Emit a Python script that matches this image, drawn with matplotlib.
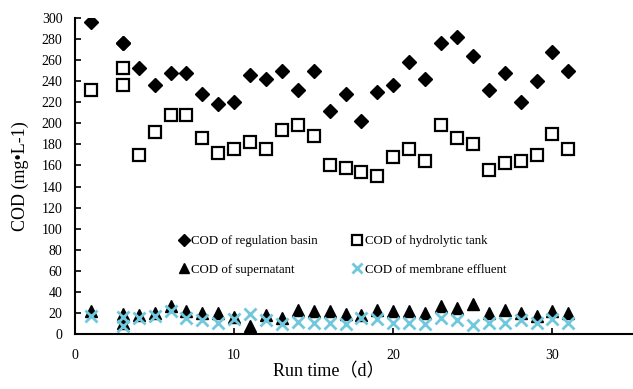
import matplotlib
matplotlib.use("Agg")
import matplotlib.pyplot as plt

plt.rcParams['font.family'] = ['Liberation Serif', 'Noto Sans CJK SC']

# run days (day 3 has two samples)
days = [1, 3, 3, 4, 5, 6, 7, 8, 9, 10, 11, 12, 13, 14, 15, 16, 17, 18, 19, 20,
        21, 22, 23, 24, 25, 26, 27, 28, 29, 30, 31]

cod_basin = [296, 276, 276, 252, 236, 248, 248, 228, 218, 220, 246, 242, 250, 232, 250, 212,
             228, 202, 230, 236, 258, 242, 276, 282, 264, 232, 248, 220, 240, 268, 250]
cod_hydro = [232, 252, 236, 170, 192, 208, 208, 186, 172, 176, 182, 176, 194, 198, 188, 160,
             158, 154, 150, 168, 176, 164, 198, 186, 180, 156, 162, 164, 170, 190, 176]
cod_super = [22, 19, 11, 18, 20, 27, 22, 20, 20, 16, 8, 18, 15, 23, 22, 22,
             19, 18, 23, 22, 22, 20, 27, 25, 29, 20, 23, 20, 17, 22, 20]
cod_membr = [17, 16, 8, 15, 17, 22, 15, 13, 11, 14, 19, 13, 10, 12, 11, 11,
             10, 15, 14, 11, 11, 10, 15, 13, 9, 11, 11, 13, 11, 14, 11]

fig = plt.figure(figsize=(6.33, 3.89), dpi=100)
ax = fig.add_axes([0.1185, 0.141, 0.88, 0.813])

h1, = ax.plot(days, cod_basin, 'D', color='black', ms=7.5, ls='none', label='COD of regulation basin')
h2, = ax.plot(days, cod_hydro, 's', mfc='white', mec='black', mew=1.6, ms=8, ls='none',
              label='COD of hydrolytic tank')
h3, = ax.plot(days, cod_super, '^', color='black', ms=8.5, ls='none', label='COD of supernatant')
h4, = ax.plot(days, cod_membr, 'x', color='#70C8DC', mew=2, ms=8, ls='none',
              label='COD of membrane effluent')

ax.set_xlim(0, 35)
ax.set_ylim(0, 300)
ax.set_xticks([0, 10, 20, 30])
ax.set_yticks(range(0, 301, 20))
ax.tick_params(direction='in', labelsize=10, width=1.2, length=4)
ax.tick_params(axis='x', pad=11)
ax.tick_params(axis='y', pad=9)
ax.spines['top'].set_visible(False)
ax.spines['right'].set_visible(False)
ax.spines['left'].set_linewidth(1.5)
ax.spines['bottom'].set_linewidth(1.5)

ax.set_ylabel('COD (mg•L-1)', fontsize=13, labelpad=9)
ax.set_xlabel('Run time（d）', fontsize=13, labelpad=2)
ax.xaxis.set_label_coords(0.455, -0.09)

# matplotlib fills legend columns first
ax.legend([h1, h3, h2, h4], [h.get_label() for h in (h1, h3, h2, h4)],
          ncol=2, frameon=False, loc='upper left', bbox_to_anchor=(0.165, 0.35),
          fontsize=9.3, handlelength=0.8, handletextpad=0.2, columnspacing=2.6,
          labelspacing=1.3, markerscale=0.85)

fig.savefig('out.png', dpi=100)
